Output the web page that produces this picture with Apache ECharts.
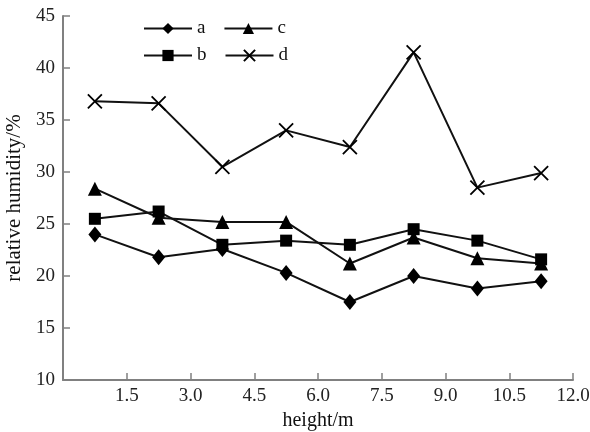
<!DOCTYPE html>
<html><head><meta charset="utf-8">
<script src="https://cdn.jsdelivr.net/npm/echarts@6/dist/echarts.min.js"></script>
<style>html,body{margin:0;padding:0;background:#fff}#c{width:590px;height:432px}</style>
</head><body><div id="c"></div>
<script>
const heights = [0.75, 2.25, 3.75, 5.25, 6.75, 8.25, 9.75, 11.25];
const seriesA = [24.0, 21.8, 22.6, 20.3, 17.5, 20.0, 18.8, 19.5];
const seriesB = [25.5, 26.2, 23.0, 23.4, 23.0, 24.5, 23.4, 21.6];
const seriesC = [28.4, 25.6, 25.2, 25.2, 21.2, 23.7, 21.7, 21.2];
const seriesD = [36.8, 36.6, 30.5, 34.0, 32.4, 41.5, 28.5, 29.9];
const xTicks = [1.5, 3.0, 4.5, 6.0, 7.5, 9.0, 10.5, 12.0];
const yTicks = [10, 15, 20, 25, 30, 35, 40, 45];

const font = 'Liberation Serif';
const pair = (ys) => heights.map((h, i) => [h, ys[i]]);
const crossPath = 'path://M0,0L10,10M10,0L0,10';

function mk(name, ys, symbol, size) {
  return {
    name, type: 'line', data: pair(ys), symbol, symbolSize: size,
    lineStyle: { color: '#111', width: 2 },
    itemStyle: { color: '#000', borderColor: '#000', borderWidth: symbol === crossPath ? 1.8 : 0 },
    emphasis: { disabled: true }, animation: false
  };
}

const chart = echarts.init(document.getElementById('c'));
const legendBase = {
  itemWidth: 48, itemHeight: 14, itemGap: 18, orient: 'horizontal', padding: 0,
  textStyle: { fontFamily: font, fontSize: 19, color: '#111' }
};
chart.setOption({
  animation: false,
  grid: { left: 63, right: 17, top: 16, bottom: 52, outerBoundsMode: 'none', containLabel: false },
  legend: [
    Object.assign({}, legendBase, { data: ['a', 'c'], left: 143, top: 19 }),
    Object.assign({}, legendBase, { data: ['b', 'd'], left: 143, top: 46 })
  ],
  xAxis: {
    type: 'value', min: 0, max: 12, interval: 1.5,
    name: 'height/m', nameLocation: 'middle', nameGap: 27,
    nameTextStyle: { fontFamily: font, fontSize: 20, color: '#111' },
    axisLine: { lineStyle: { color: '#808080', width: 2 } },
    axisTick: { inside: true, length: 7, lineStyle: { color: '#808080', width: 1.5 } },
    axisLabel: { fontFamily: font, fontSize: 19, color: '#222', margin: 7,
      formatter: v => (xTicks.indexOf(v) >= 0 ? v.toFixed(1) : '') },
    splitLine: { show: false }
  },
  yAxis: {
    type: 'value', min: 10, max: 45, interval: 5,
    name: 'relative humidity/%', nameLocation: 'middle', nameGap: 37,
    nameTextStyle: { fontFamily: font, fontSize: 21, color: '#111' },
    axisLine: { show: true, lineStyle: { color: '#808080', width: 2 } },
    axisTick: { show: true, inside: true, length: 7, lineStyle: { color: '#808080', width: 1.5 } },
    axisLabel: { fontFamily: font, fontSize: 19, color: '#222', margin: 8,
      formatter: v => (yTicks.indexOf(v) >= 0 ? String(v) : '') },
    splitLine: { show: false }
  },
  series: [
    mk('a', seriesA, 'diamond', [13, 16]),
    mk('b', seriesB, 'rect', 12),
    mk('c', seriesC, 'triangle', 14),
    mk('d', seriesD, crossPath, 14)
  ]
});
</script></body></html>
